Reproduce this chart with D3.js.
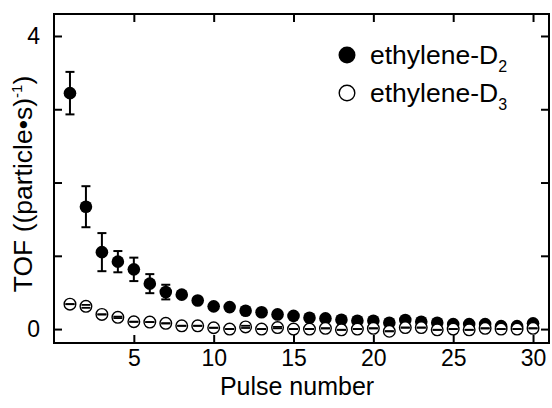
<!DOCTYPE html>
<html>
<head>
<meta charset="utf-8">
<script src="https://cdn.jsdelivr.net/npm/d3@7"></script>
<style>
  html, body { margin: 0; padding: 0; background: #fff; }
  svg { display: block; font-family: "Liberation Sans", Arial, sans-serif; }
</style>
</head>
<body>
<svg id="chart" width="552" height="408"></svg>
<script>
// ---- data ----
const pulses = d3.range(1, 31);
const tofD2 = [3.22, 1.67, 1.05, 0.92, 0.815, 0.62, 0.505, 0.47, 0.39, 0.31,
               0.30, 0.25, 0.23, 0.20, 0.18, 0.155, 0.146, 0.127, 0.113, 0.113,
               0.086, 0.123, 0.10, 0.086, 0.068, 0.068, 0.068, 0.04, 0.04, 0.078];
const errD2 = [0.29, 0.28, 0.26, 0.145, 0.16, 0.13, 0.10, 0.04, 0.03, 0.03,
               0.03, 0.02, 0.02, 0.02, 0.02, 0.02, 0.02, 0.02, 0.02, 0.02,
               0.02, 0.02, 0.02, 0.02, 0.02, 0.02, 0.02, 0.02, 0.02, 0.02];
const tofD3 = [0.34, 0.31, 0.20, 0.16, 0.10, 0.095, 0.078, 0.045, 0.045, 0.018,
               0.0, 0.03, 0.0, 0.02, 0.0, 0.0, 0.01, -0.01, 0.0, 0.01,
               -0.03, 0.02, 0.02, -0.01, 0.0, -0.01, 0.01, 0.0, 0.0, 0.01];
const errD3 = [0.0, 0.02, 0.0, 0.01, 0.0, 0.0, 0.0, 0.0, 0.0, 0.0,
               0.0, 0.015, 0.0, 0.01, 0.0, 0.0, 0.0, 0.0, 0.0, 0.0,
               0.0, 0.0, 0.0, 0.0, 0.0, 0.0, 0.0, 0.0, 0.0, 0.0];
const xTicks = [5, 10, 15, 20, 25, 30];
const yTicks = [0, 1, 2, 3, 4];
const yTickLabels = ["0", "", "", "", "4"];
const seriesNames = ["ethylene-D", "ethylene-D"];
const seriesSubs = ["2", "3"];

// ---- layout ----
const L = 54, R = 549, T = 14, B = 343;
const svg = d3.select("#chart");
const x = d3.scaleLinear().domain([0, 31]).range([L, R]);
const y = d3.scaleLinear().domain([-0.19, 4.3]).range([B, T]);
const tickLen = 8;
const tickFont = 23;

// frame
svg.append("rect").attr("x", L).attr("y", T).attr("width", R - L).attr("height", B - T)
  .attr("fill", "none").attr("stroke", "#000").attr("stroke-width", 2);

function styleAxis(g) {
  g.select(".domain").remove();
  g.selectAll(".tick line").attr("stroke", "#000").attr("stroke-width", 2);
  g.selectAll(".tick text").attr("font-size", tickFont).attr("fill", "#000")
    .attr("font-family", "Liberation Sans, Arial, sans-serif");
}

// bottom axis
svg.append("g").attr("transform", `translate(0,${B})`)
  .call(d3.axisBottom(x).tickValues(xTicks).tickSizeInner(-tickLen).tickPadding(7))
  .call(styleAxis);
// top axis (ticks only)
svg.append("g").attr("transform", `translate(0,${T})`)
  .call(d3.axisTop(x).tickValues(xTicks).tickSizeInner(-tickLen).tickFormat(""))
  .call(styleAxis);
// left axis
svg.append("g").attr("transform", `translate(${L},0)`)
  .call(d3.axisLeft(y).tickValues(yTicks).tickSizeInner(-tickLen).tickPadding(14)
    .tickFormat((d, i) => yTickLabels[i]))
  .call(styleAxis);
// right axis (ticks only)
svg.append("g").attr("transform", `translate(${R},0)`)
  .call(d3.axisRight(y).tickValues(yTicks).tickSizeInner(-tickLen).tickFormat(""))
  .call(styleAxis);

// axis titles
svg.append("text").attr("x", 297).attr("y", 395).attr("text-anchor", "middle")
  .attr("font-size", 25).attr("fill", "#000").text("Pulse number");

const yt = svg.append("text").attr("transform", `translate(32,184) rotate(-90)`)
  .attr("text-anchor", "middle").attr("font-size", 26.5).attr("fill", "#000");
yt.append("tspan").text("TOF ((particle•s)");
yt.append("tspan").attr("font-size", 15).attr("dy", -10).text("-1");
yt.append("tspan").attr("dy", 10).text(")");

// data series
const capW = 4.5;
function drawSeries(vals, errs, filled) {
  const g = svg.append("g");
  const data = pulses.map((p, i) => ({ p, v: vals[i], e: errs[i] }));
  const pts = g.selectAll("g.pt").data(data).join("g").attr("class", "pt");
  if (filled) {
    pts.append("line").attr("x1", d => x(d.p)).attr("x2", d => x(d.p))
      .attr("y1", d => y(d.v - d.e)).attr("y2", d => y(d.v + d.e))
      .attr("stroke", "#000").attr("stroke-width", 2);
    [1, -1].forEach(s => pts.append("line")
      .attr("x1", d => x(d.p) - capW).attr("x2", d => x(d.p) + capW)
      .attr("y1", d => y(d.v + s * d.e)).attr("y2", d => y(d.v + s * d.e))
      .attr("stroke", "#000").attr("stroke-width", 2));
    pts.append("circle").attr("cx", d => x(d.p)).attr("cy", d => y(d.v)).attr("r", 6.3)
      .attr("fill", "#000");
  } else {
    pts.append("circle").attr("cx", d => x(d.p)).attr("cy", d => y(d.v)).attr("r", 5.8)
      .attr("fill", "#fff").attr("stroke", "#000").attr("stroke-width", 1.4);
    [1, -1].forEach(s => pts.append("line")
      .attr("x1", d => x(d.p) - capW).attr("x2", d => x(d.p) + capW)
      .attr("y1", d => y(d.v + s * d.e)).attr("y2", d => y(d.v + s * d.e))
      .attr("stroke", "#000").attr("stroke-width", 1.8));
  }
}
drawSeries(tofD2, errD2, true);
drawSeries(tofD3, errD3, false);

// legend
const lg = svg.append("g");
[0, 1].forEach(i => {
  const cy = 55 + i * 38;
  if (i === 0) lg.append("circle").attr("cx", 347).attr("cy", cy).attr("r", 8.5).attr("fill", "#000");
  else lg.append("circle").attr("cx", 347).attr("cy", cy).attr("r", 7.8).attr("fill", "#fff")
    .attr("stroke", "#000").attr("stroke-width", 1.4);
  const t = lg.append("text").attr("x", 370).attr("y", cy + 9).attr("font-size", 26.5).attr("fill", "#000");
  t.append("tspan").text(seriesNames[i]);
  t.append("tspan").attr("font-size", 16).attr("dy", 8).text(seriesSubs[i]);
});
</script>
</body>
</html>
